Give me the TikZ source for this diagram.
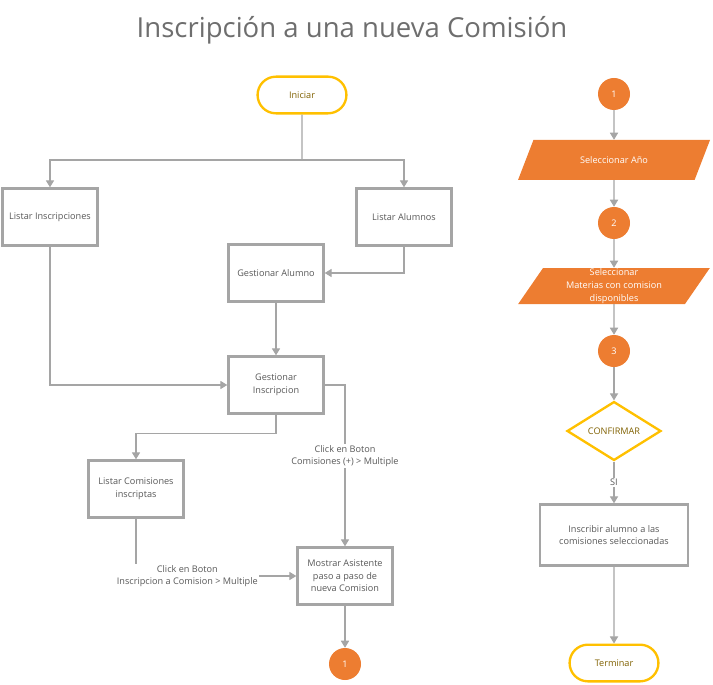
\documentclass[tikz,border=0pt]{standalone}
\usepackage{fontspec}
\setmainfont{Open Sans}
\usetikzlibrary{shapes.geometric,shapes.misc,arrows.meta}
\definecolor{linegray}{HTML}{A5A5A5}
\definecolor{textgray}{HTML}{595959}
\definecolor{titlegray}{HTML}{6E6E6E}
\definecolor{yel}{HTML}{FFC000}
\definecolor{yeltext}{HTML}{7F6000}
\definecolor{orng}{HTML}{ED7D31}

\begin{document}
\begin{tikzpicture}[x=0.03cm,y=-0.03cm,
	font=\fontsize{7.8}{10.8}\selectfont,
	every node/.style={text=textgray},
	proc/.style={draw=linegray,line width=2pt,fill=white,minimum width=2.85cm,minimum height=1.71cm,align=center},
	term/.style={rounded rectangle,draw=yel,line width=2pt,minimum width=2.9cm,minimum height=1.1cm,text=yeltext},
	conn/.style={circle,fill=orng,text=white,minimum size=0.96cm,inner sep=0pt},
	io/.style={trapezium,trapezium left angle=64,trapezium right angle=116,trapezium stretches=true,fill=orng,text=white,minimum width=5.76cm,minimum height=1.2cm,align=center},
	arr/.style={draw=linegray,line width=0.9pt,-{Triangle[width=7pt,length=6pt]}},
	lin/.style={draw=linegray,line width=0.9pt},
	lbl/.style={fill=white,align=center,inner sep=1pt}]
	\useasboundingbox (0,0) rectangle (713,684);
	\node[text=titlegray,font=\fontsize{23.5}{26}\selectfont] (title) at (352,30) {Inscripción a una nueva Comisión};
	\node[term] (ini) at (302,95) {Iniciar};
	\node[proc] (lins) at (50,217) {Listar Inscripciones};
	\node[proc] (lalu) at (404,217) {Listar Alumnos};
	\node[proc] (galu) at (276,273) {Gestionar Alumno};
	\node[proc] (gins) at (276,385) {Gestionar\\Inscripcion};
	\node[proc] (lcom) at (136,489) {Listar Comisiones\\inscriptas};
	\node[proc] (most) at (345,576) {Mostrar Asistente\\paso a paso de\\nueva Comision};
	\node[conn] (c1a) at (345,664) {1};
	\node[conn] (c1b) at (614,94) {1};
	\node[io] (sano) at (614,160) {Seleccionar Año};
	\node[conn] (c2) at (614,223) {2};
	\node[io,minimum height=1.08cm,inner sep=0pt] (smat) at (614,286) {Seleccionar\\Materias con comision\\disponibles};
	\node[conn] (c3) at (614,351) {3};
	\node[diamond,draw=yel,line width=2pt,minimum width=2.82cm,minimum height=1.68cm,inner sep=0pt,text=yeltext] (conf) at (614,431) {CONFIRMAR};
	\node[proc,minimum width=4.44cm,minimum height=1.83cm] (insc) at (614,535) {Inscribir alumno a las\\comisiones seleccionadas};
	\node[term] (term) at (614,663) {Terminar};
	\coordinate (split) at (302,160);
	\draw[lin] (ini) -- (split);
	\draw[arr] (split) -| (lins);
	\draw[arr] (split) -| (lalu);
	\draw[arr] (lalu) |- (galu);
	\draw[arr] (galu) -- (gins);
	\draw[arr] (lins) |- (gins);
	\draw[arr] (gins.east) -| node[lbl,pos=0.72]{Click en Boton\\Comisiones (+) > Multiple} (most);
	\draw[arr] (gins.south) -- ++(0,19) -| (lcom);
	\draw[arr] (lcom) |- node[lbl,pos=0.66]{Click en Boton\\Inscripcion a Comision > Multiple} (most);
	\draw[arr] (most) -- (c1a);
	\draw[arr] (c1b) -- (sano);
	\draw[arr] (sano) -- (c2);
	\draw[arr] (c2) -- (smat);
	\draw[arr] (smat) -- (c3);
	\draw[arr] (c3) -- (conf);
	\draw[arr] (conf) -- node[lbl]{SI} (insc);
	\draw[arr] (insc) -- (term);
\end{tikzpicture}
\end{document}
